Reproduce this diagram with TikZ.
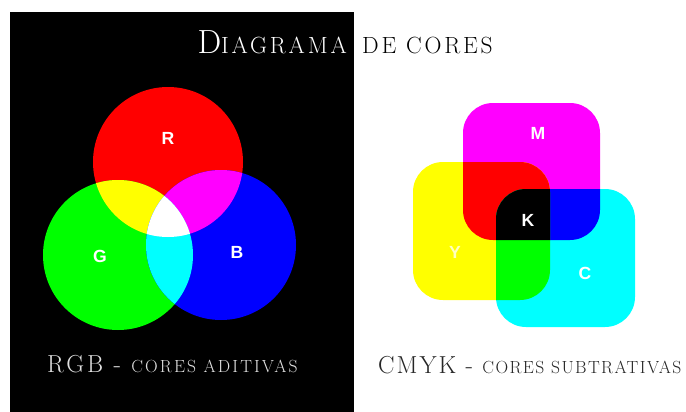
\documentclass[tikz,border=0pt]{standalone}
\usepackage{fontspec}
\newfontfamily\letterfont{Liberation Sans}
\newfontfamily\wideserif[LetterSpace=12]{Latin Modern Roman}
\newfontfamily\wideserifb[LetterSpace=8]{Latin Modern Roman}
\usetikzlibrary{positioning}
\definecolor{pRed}{RGB}{255,0,0}
\definecolor{pGreen}{RGB}{0,255,0}
\definecolor{pBlue}{RGB}{0,0,255}
\definecolor{pCyan}{RGB}{0,255,255}
\definecolor{pMagenta}{RGB}{255,0,255}
\definecolor{pYellow}{RGB}{255,255,0}
\newcommand{\capsize}[1]{\fontsize{#1}{#1}\selectfont}

\begin{document}
\begin{tikzpicture}[x=0.03cm, y=-0.03cm,
    letter/.style={font=\letterfont\bfseries\fontsize{15}{15}\selectfont, text=white},
    title/.style={font=\wideserif, inner sep=0pt},
    caption/.style={font=\wideserif, inner sep=0pt}]
  \pgfmathsetmacro{\rad}{75}
  \def\corner{0.9cm}
  \useasboundingbox (0,0) rectangle (686,412);
  \fill[white] (0,0) rectangle (686,412);
  \fill[black] (10,12) rectangle (354,412);

  % additive circles
  \coordinate (cR) at (168,162);
  \coordinate (cG) at (118,255);
  \coordinate (cB) at (221,245);
  \fill[pRed]   (cR) circle[radius=\rad];
  \fill[pGreen] (cG) circle[radius=\rad];
  \fill[pBlue]  (cB) circle[radius=\rad];
  \begin{scope}
    \clip (cR) circle[radius=\rad];
    \fill[pYellow]  (cG) circle[radius=\rad];
    \fill[pMagenta] (cB) circle[radius=\rad];
  \end{scope}
  \begin{scope}
    \clip (cG) circle[radius=\rad];
    \fill[pCyan] (cB) circle[radius=\rad];
    \clip (cB) circle[radius=\rad];
    \fill[white] (cR) circle[radius=\rad];
  \end{scope}

  % subtractive squares
  \fill[pMagenta, rounded corners=\corner] (463,103) rectangle (600,240);
  \fill[pYellow,  rounded corners=\corner] (413,162) rectangle (550,300);
  \fill[pCyan,    rounded corners=\corner] (496,189) rectangle (635,327);
  \begin{scope}
    \clip[rounded corners=\corner] (463,103) rectangle (600,240);
    \fill[pRed,  rounded corners=\corner] (413,162) rectangle (550,300);
    \fill[pBlue, rounded corners=\corner] (496,189) rectangle (635,327);
  \end{scope}
  \begin{scope}
    \clip[rounded corners=\corner] (413,162) rectangle (550,300);
    \fill[pGreen, rounded corners=\corner] (496,189) rectangle (635,327);
    \clip[rounded corners=\corner] (496,189) rectangle (635,327);
    \fill[black, rounded corners=\corner] (463,103) rectangle (600,240);
  \end{scope}

  % letters
  \node[letter] (lR) at (168,138) {R};
  \node[letter] (lG) at (100,256) {G};
  \node[letter] (lB) at (237,252) {B};
  \node[letter] (lM) at (538,133) {M};
  \node[letter] (lK) at (528,220) {K};
  \node[letter, text=pYellow!25] (lY) at (455,252) {Y};
  \node[letter] (lC) at (585,273) {C};

  % titles
  \node[title, text=white, anchor=base east] (tA) at (347,53)
    {{\capsize{28.6}D}{\capsize{20}IAGRAMA}};
  \node[title, text=black, anchor=base west] (tB) at (362,53)
    {\capsize{20}DE CORES};
  \node[caption, text=white!88!black, anchor=base west] (capRGB) at (47,372)
    {{\capsize{21}RGB - }{\capsize{15}CORES ADITIVAS}};
  \node[caption, font=\wideserifb, text=black!85, anchor=base west] (capCMYK) at (378,373)
    {{\capsize{21}CMYK - }{\capsize{15}CORES SUBTRATIVAS}};
\end{tikzpicture}
\end{document}
